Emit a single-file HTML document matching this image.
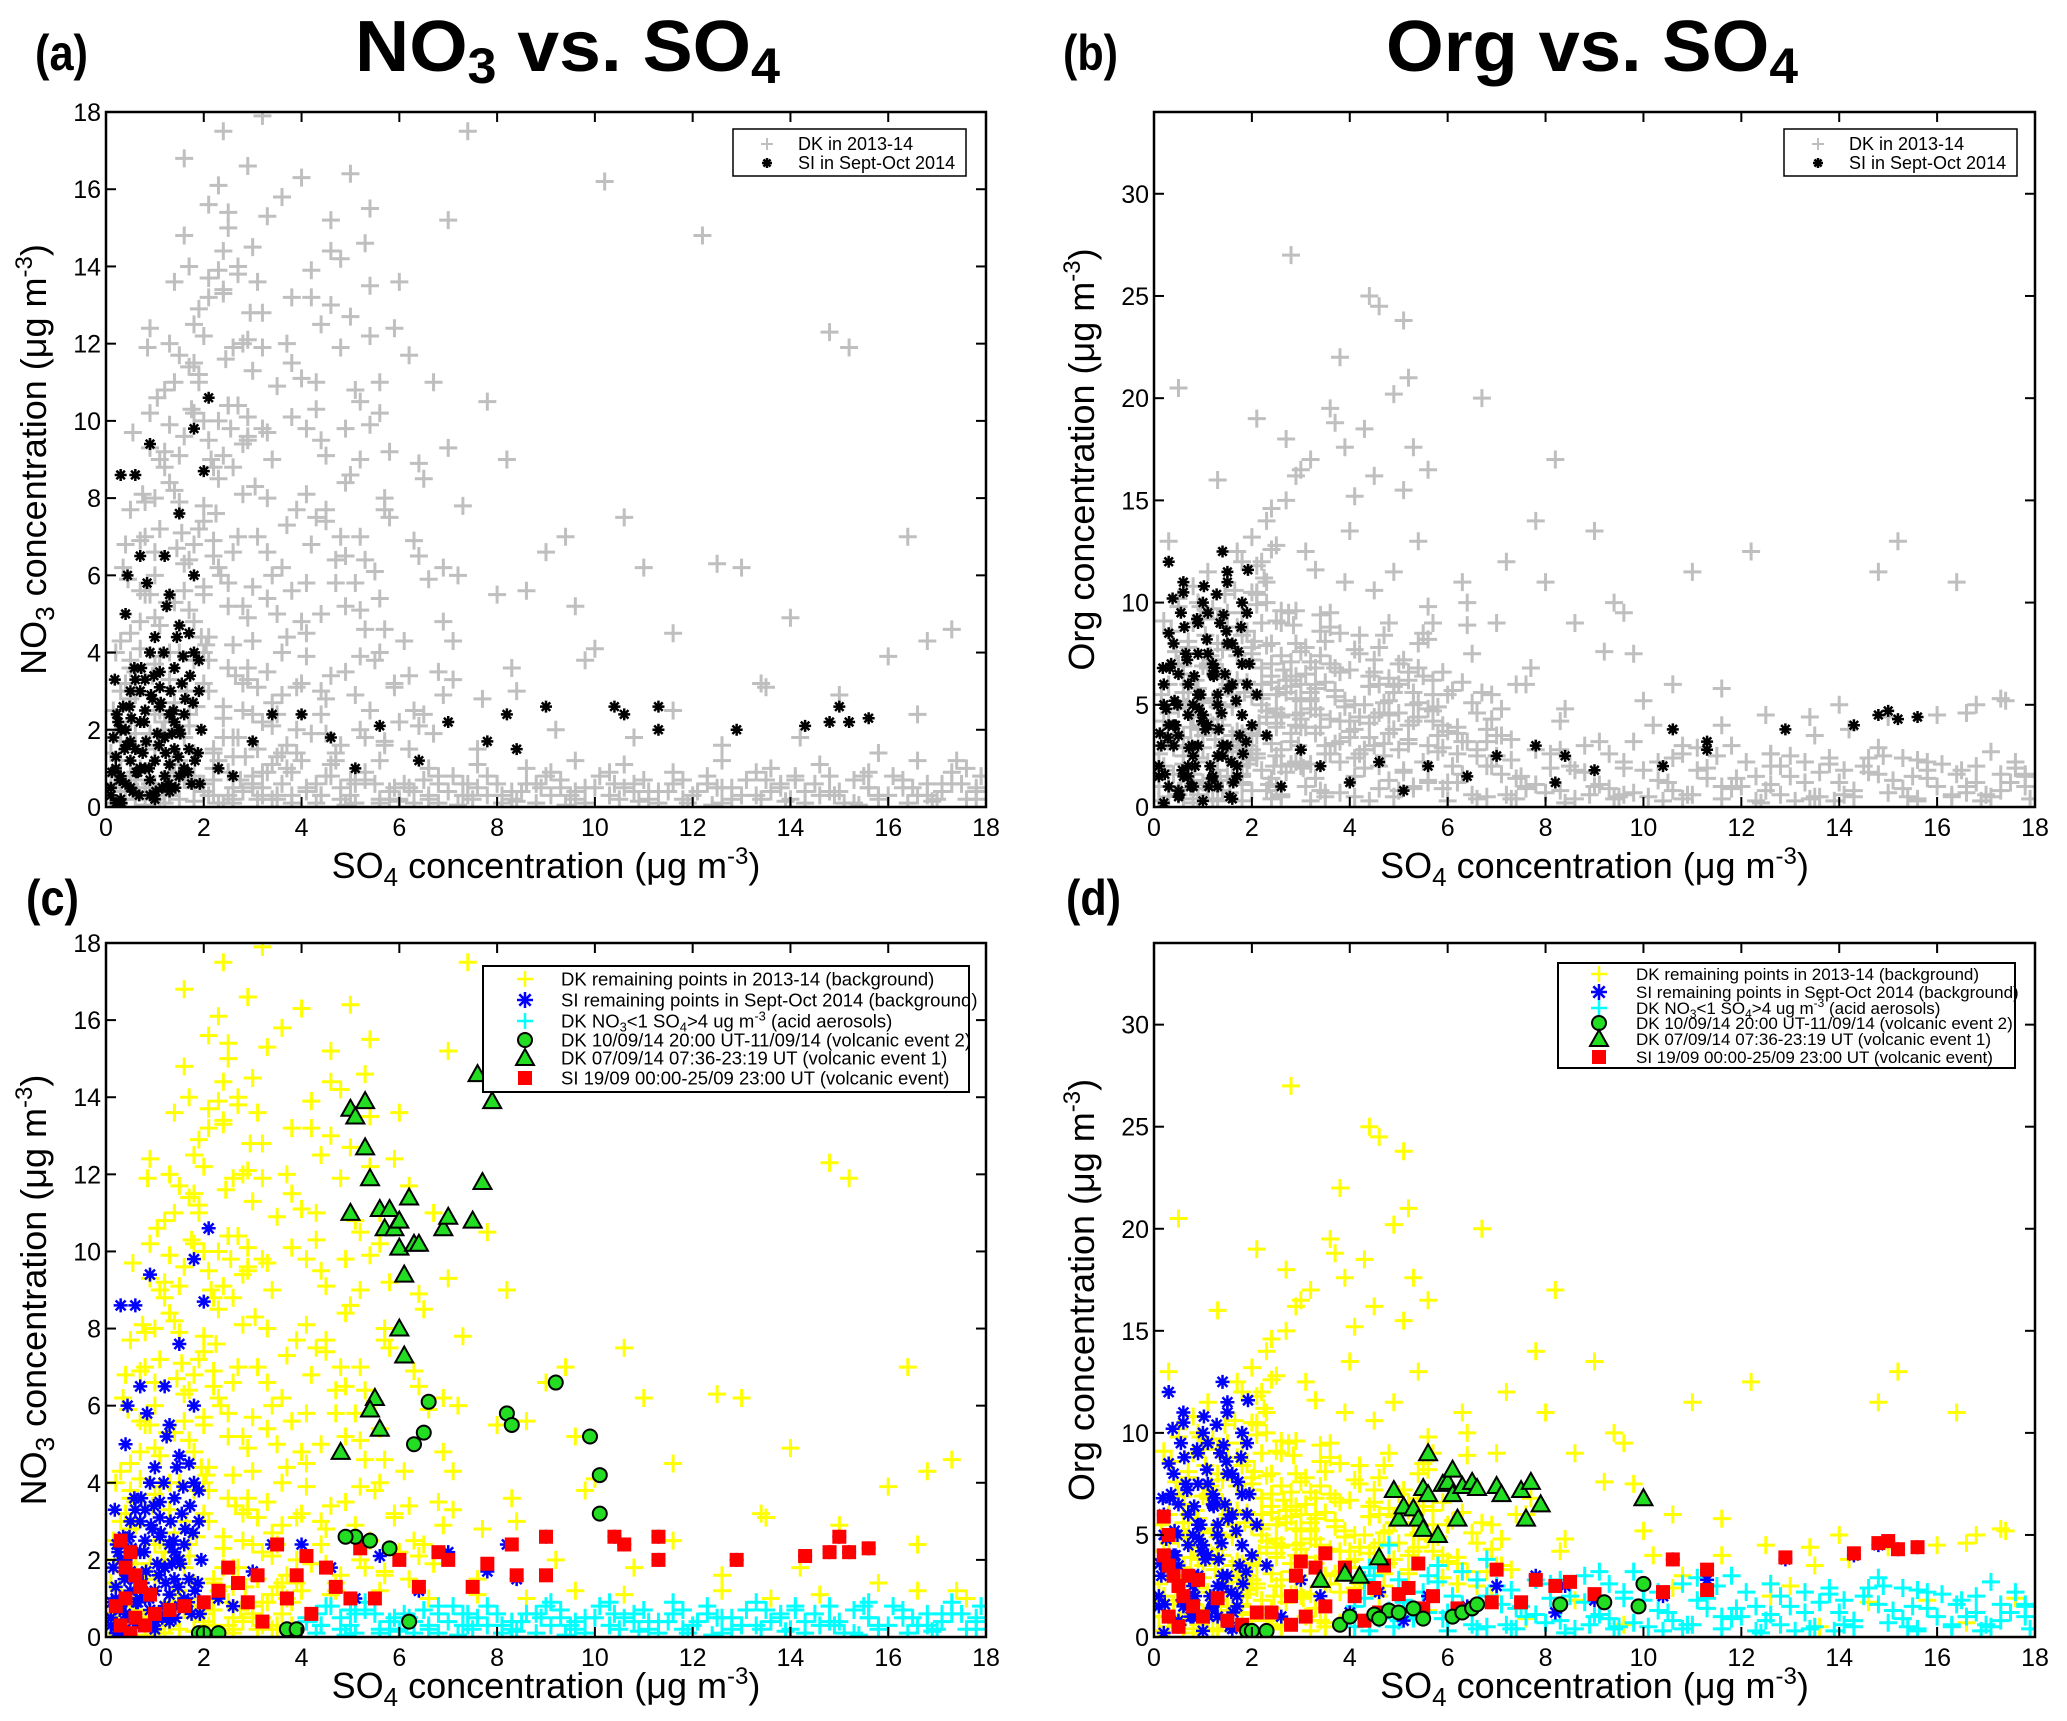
<!DOCTYPE html>
<html><head><meta charset="utf-8"><style>
html,body{margin:0;padding:0;background:#fff;}
svg{display:block;font-family:"Liberation Sans",Arial,sans-serif;}
</style></head><body>
<svg id="fig" width="2067" height="1721" viewBox="0 0 2067 1721" xmlns="http://www.w3.org/2000/svg">
<defs>
<clipPath id="clipA"><rect x="106" y="112" width="880" height="695"/></clipPath>
<clipPath id="clipB"><rect x="1154" y="112" width="881" height="695"/></clipPath>
<clipPath id="clipC"><rect x="106" y="943" width="880" height="694"/></clipPath>
<clipPath id="clipD"><rect x="1154" y="943" width="881" height="694"/></clipPath>
</defs>
<text x="35" y="70" font-size="50" font-weight="bold" textLength="53" lengthAdjust="spacingAndGlyphs">(a)</text>
<text x="355" y="71" font-size="72" font-weight="bold" textLength="425" lengthAdjust="spacingAndGlyphs">NO<tspan font-size="50" dy="12">3</tspan><tspan dy="-12"> vs. SO</tspan><tspan font-size="50" dy="12">4</tspan></text>
<text x="1063" y="70" font-size="50" font-weight="bold" textLength="55" lengthAdjust="spacingAndGlyphs">(b)</text>
<text x="1386" y="71" font-size="72" font-weight="bold" textLength="412" lengthAdjust="spacingAndGlyphs">Org vs. SO<tspan font-size="50" dy="12">4</tspan></text>
<text x="26" y="915" font-size="50" font-weight="bold" textLength="53" lengthAdjust="spacingAndGlyphs">(c)</text>
<text x="1066" y="915" font-size="50" font-weight="bold" textLength="55" lengthAdjust="spacingAndGlyphs">(d)</text>
</svg>
<script>
// ---- DK 2013-14 data (SO4, NO3, Org) ----
const dkSO4 = [0.1,0.3,0.5,0.7,0.9,1.1,1.3,1.5,1.7,1.9, 2.1,2.3,2.5,2.7,2.9,0.2,0.6,1.0,1.4,1.8, 2.2,2.6,3.0,3.4,3.8,4.2,4.6,5.0,5.4,5.8, 1.6,2.0,2.4,2.8,3.2,3.6,4.0,4.4,4.8,5.2, 3.1,3.5,3.9,4.3,4.7,5.1,5.5,5.9,6.3,6.7, 7.0,7.4,7.8,8.2,8.6,9.0,9.4,9.8,10.2,10.6, 11.0,11.6,12.2,12.5,13.0,13.5,14.0,14.8,15.2,16.4, 16.0,16.8,17.3,17.8,0.3,0.5,0.9,1.3,1.7,2.1, 2.5,3.0,3.5,4.1,4.5,5.0,5.5,6.0,6.5,7.0, 7.5,8.0,8.5,9.0,9.5,10.0,10.5,11.0,11.5,12.0, 12.5,13.0,13.5,14.0,14.5,15.0,15.5,16.0,16.5,17.0, 17.5,4.3,5.3,6.3,7.3,8.3,9.3,10.3,11.3,12.3, 13.3,14.3,15.3,16.3,17.3,4.8,5.8,6.8,7.8,8.8, 9.8,10.8,11.8,12.8,13.8,14.8,15.8,16.8,17.8,3.2, 0.1,0.3,0.6,0.9,1.2,1.5,1.8,2.2,2.6,3.0, 3.3,3.7,4.1,4.5,4.9,5.3,5.7,2.4,2.8,3.6, 1.2,1.8,2.3,2.7,3.3,3.8,4.3,4.9,5.6,6.5, 0.8,1.1,1.5,2.0,2.5,3.1,0.5,1.0,2.1,2.9, 6.0,6.8,7.6,8.4,9.2,10.0,10.8,11.6,12.6,13.4, 14.2,15.0,15.8,16.6,17.4,9.6,8.0,7.2,6.4,5.6,
 0.2,0.5,0.8,1.1,1.4,1.7,2.0,2.3,2.6,2.9, 0.4,0.7,1.0,1.3,1.6,1.9,2.2,2.5,2.8,0.9, 1.2,1.5,1.8,2.1,2.4,2.7,3.0,0.6,1.1,1.6, 2.0,2.4,2.8,0.3,0.7,1.3,1.9,2.5,3.1,2.2, 1.4,1.8,2.6,3.2,0.5,1.0,2.3,2.9,1.7,2.1, 3.4,3.7,4.0,4.3,4.6,4.9,5.2,5.5,5.8,6.1, 3.2,3.6,4.2,4.8,5.4,6.0,3.9,4.5,5.1,5.7, 2.3,2.7,3.3,3.5,4.4,5.0,5.3,6.4,6.9,7.3, 0.1,0.3,0.5,0.7,0.9,1.2,1.5,1.8,2.4,3.0, 3.8,4.1,4.7,5.2,5.6,6.2,6.6,7.1,7.7,8.3,
 0.3,0.8,1.3,1.8,2.3,2.8,3.3,3.8,4.3,4.8, 5.3,5.8,6.3,6.8,7.3,7.8,8.3,8.8,9.3,9.8, 10.3,10.8,11.3,11.8,12.3,12.8,13.3,13.8,14.3,14.8, 15.3,15.8,16.3,16.8,17.3,17.8,4.6,5.6,6.6,7.6, 8.6,9.6,10.6,11.6,12.6,13.6,14.6,15.6,16.6,17.6, 4.4,5.1,5.9,6.6,7.4,8.1,8.9,9.6,10.4,11.1, 11.9,12.6,13.4,14.1,14.9,15.6,16.4,17.1,17.9,9.1, 0.2,0.6,1.0,1.5,2.0,2.5,3.0,3.5,4.0,1.2, 2.2,2.7,3.2,3.7,4.2,4.7,5.2,5.7,6.2,6.7, 2.4,2.9,3.4,3.9,4.4,4.9,5.4,5.9,6.4,6.9,
 0.15,0.45,0.75,1.05,1.35,1.65,1.95,2.25,2.55,2.85, 0.35,0.65,0.95,1.25,1.55,1.85,2.15,2.45,2.75,3.05, 0.55,0.85,1.15,1.45,1.75,2.05,2.35,2.65,2.95,1.0, 1.6,2.0,2.4,2.8,3.2,3.6,4.0,4.4,4.8,5.2, 3.3,3.9,4.5,5.1,5.7,6.3,6.9,3.5,4.1,4.7, 5.3,5.9,6.5,7.1,3.0,3.8,4.6,5.4,6.2,7.0, 0.6,1.1,1.6,2.1,2.6,3.1,3.6,4.1,4.6,5.1, 5.6,6.1,6.6,7.1,7.6,8.1,8.6,9.1,9.6,10.1, 10.6,11.1,11.6,12.1,12.6,13.1,13.6,14.1,14.6,15.1, 15.6,16.1,16.6,17.1,17.6,4.9,6.0,7.2,8.4,9.4, 10.9,12.4,13.9,15.4,16.9,1.3,2.4,3.4,0.8,1.8, 0.2,0.4,0.6,0.8,1.0,1.2,1.4,1.6,1.8,2.0,
 0.7,1.0,1.3,1.6,1.9,2.2,2.5,2.8,3.1,3.4, 0.5,0.8,1.1,1.4,1.7,2.0,2.3,2.6,2.9,3.2, 3.6,4.0,4.4,4.8,5.2,5.6,4.2,4.6,5.0,5.4, 1.0,1.4,1.8,2.2,2.6,3.0,3.4,3.8,2.0,2.4, 2.1,2.5,2.9,3.3,3.7,4.1,4.5,4.9,5.3,5.7, 2.0,2.6,3.2,3.8,4.4,5.0,5.6,6.2,6.8,7.4, 0.9,1.3,1.7,2.1,2.5,2.9,3.3,3.7,4.1,4.5, 0.4,0.6,0.8,1.2,1.5,1.8,2.2,2.6,3.0,3.5];
const dkNO3 = [0.5,1.2,2.8,4.1,5.5,7.2,3.3,9.1,6.4,11.0, 13.2,8.5,15.0,10.4,12.1,2.0,3.5,6.0,8.2,4.8, 6.5,4.2,14.5,9.0,11.5,6.8,13.0,8.6,15.5,7.5, 16.8,5.5,17.5,2.5,17.9,4.0,16.3,3.0,14.2,10.5, 1.5,5.0,2.0,7.5,1.2,5.8,3.8,12.4,2.5,11.0, 15.2,17.5,10.5,9.0,5.6,6.6,7.0,3.8,16.2,7.5, 6.2,4.5,14.8,6.3,6.2,3.1,4.9,12.3,11.9,7.0, 3.9,4.3,4.6,0.5,4.3,7.7,10.2,12.0,14.0,9.5, 0.3,0.6,0.2,0.5,0.8,0.3,0.6,0.2,0.7,0.4, 0.2,0.6,0.4,0.8,0.3,0.5,0.2,0.7,0.4,0.3, 0.5,0.3,0.7,0.2,0.6,0.4,0.8,0.3,0.5,0.2, 0.6,0.1,0.9,0.4,0.6,0.2,0.5,0.9,0.1,0.6, 0.9,0.4,0.1,0.7,0.9,0.5,0.2,0.8,0.3,0.6, 0.1,0.4,0.7,0.2,0.5,0.8,0.3,0.6,0.2,0.9, 0.1,0.4,0.2,0.6,0.3,0.8,0.5,1.0,1.8,2.4, 3.5,1.0,4.5,2.8,6.5,1.8,4.6,1.8,3.2,6.2, 8.8,11.5,10.0,13.8,8.0,13.2,11.0,9.8,10.2,8.5, 5.5,2.5,4.0,7.8,5.8,7.0,0.8,1.5,3.0,9.5, 2.2,3.5,1.5,3.0,2.0,4.1,1.8,2.5,1.6,3.2, 1.8,2.9,1.4,2.4,1.2,5.2,5.5,6.0,6.5,5.4,
 0.8,2.2,1.6,3.9,2.7,5.1,7.4,6.2,8.8,10.1, 3.2,4.8,6.6,8.4,9.6,11.2,1.4,3.6,5.2,1.9, 10.8,7.9,12.5,4.4,9.1,7.0,11.3,2.9,4.7,6.3, 5.7,2.3,8.1,1.7,5.6,0.9,12.9,10.4,3.1,6.9, 13.6,10.2,11.9,9.8,3.8,8.0,13.9,4.9,2.1,15.6, 2.1,7.3,4.8,10.3,3.4,8.4,5.1,6.1,9.2,4.3, 12.8,15.8,13.9,11.9,9.9,13.6,1.4,1.9,2.9,1.6, 16.1,14.0,15.3,10.9,9.5,12.7,14.6,8.9,6.2,7.8, 1.4,3.0,4.5,6.9,9.3,2.2,11.7,3.8,13.3,5.7, 5.6,8.1,6.4,7.0,4.0,3.4,5.9,4.3,2.8,3.6,
 0.2,0.5,0.3,0.7,0.1,0.4,0.9,0.3,0.6,0.2, 0.7,0.4,0.1,0.6,0.3,0.8,0.4,0.1,0.7,0.5, 0.3,0.6,0.4,0.2,0.8,0.5,0.3,0.6,0.1,0.4, 0.7,0.2,0.5,0.3,0.6,0.4,1.1,1.2,1.0,1.1, 1.0,1.2,1.1,0.9,1.2,1.0,1.1,0.9,1.2,1.0, 0.3,0.1,0.5,0.2,0.6,0.3,0.5,0.2,0.6,0.4, 0.1,0.5,0.2,0.7,0.3,0.5,0.1,0.4,0.8,0.9, 0.6,0.9,0.2,1.2,0.6,0.9,0.5,1.3,1.2,0.1, 1.5,1.8,2.2,1.6,1.9,1.4,2.0,1.7,1.5,1.9, 2.6,3.3,2.7,3.1,2.4,3.5,2.5,3.2,2.1,2.9,
 2.5,5.9,8.1,10.6,1.1,3.0,4.4,7.6,9.8,1.3, 6.2,0.4,3.4,5.3,7.1,2.6,9.0,11.6,0.7,8.3, 9.7,11.9,2.0,6.7,10.3,4.2,6.0,3.4,12.8,4.9, 14.8,12.2,13.4,9.4,0.3,2.9,11.1,12.5,1.6,3.9, 5.4,7.7,9.1,10.8,7.7,6.9,4.8,2.4,3.9,5.8, 4.6,3.1,2.4,3.3,4.3,10.1,14.4,13.5,11.7,9.3, 0.4,0.1,0.7,0.3,0.5,0.2,0.6,0.4,0.8,0.6, 0.1,0.6,0.3,0.8,0.5,0.1,0.6,0.3,0.4,0.8, 0.5,0.2,0.6,0.4,0.1,0.7,0.4,0.8,0.3,0.1, 0.5,0.8,0.3,0.6,0.2,0.05,0.15,0.05,0.15,0.05, 0.15,0.05,0.15,0.05,0.15,0.3,0.1,0.2,0.05,0.15, 4.0,6.8,1.9,7.9,3.7,9.2,5.3,1.8,6.8,3.2,
 1.0,2.4,4.0,5.6,7.2,8.8,10.4,12.0,13.6,6.0, 3.6,7.0,9.0,11.0,2.4,4.0,1.2,6.6,9.6,11.9, 1.4,3.2,5.0,7.0,9.0,11.0,13.2,15.2,16.4,12.2, 0.6,0.9,1.4,0.7,1.3,0.8,1.1,0.9,10.0,14.4, 3.8,5.2,3.6,6.6,4.4,5.8,7.7,5.2,6.4,8.0, 0.4,0.2,0.5,0.1,0.3,0.7,0.2,0.5,0.1,0.3, 12.4,9.9,11.4,13.7,15.4,16.6,9.7,12.0,9.8,7.4, 0.2,0.7,0.4,0.5,0.2,0.8,0.3,0.1,0.6,0.3];
const dkOrg = [1.0,3.2,0.8,5.1,2.4,7.0,4.3,9.5,2.9,6.1, 3.5,14.0,5.5,18.0,8.0,2.0,6.5,4.0,3.0,1.5, 12.0,9.0,16.5,4.5,22.0,7.5,24.5,6.0,13.0,3.5, 5.0,10.5,7.0,27.0,17.0,19.5,13.5,25.0,9.0,21.0, 6.5,3.0,11.0,5.0,2.5,15.5,8.5,4.0,11.0,20.0, 9.0,6.0,14.0,17.0,9.0,13.5,10.0,7.5,4.0,6.0, 11.5,4.0,12.5,4.5,2.5,3.5,5.0,11.5,13.0,11.0, 4.5,5.0,5.3,1.0,13.0,20.5,10.0,16.0,12.5,19.0, 1.0,2.0,0.5,1.5,3.0,0.8,2.2,1.2,0.6,2.5, 1.5,0.7,2.0,1.0,0.5,1.8,1.2,0.6,2.5,1.0, 0.8,1.5,0.5,1.2,2.0,0.7,1.5,1.0,1.8,0.6, 1.2,2.8,1.0,3.2,0.4,2.8,0.9,2.2,1.4,0.3, 2.2,0.5,2.4,0.6,1.6,4.5,3.5,3.8,2.8,3.0, 3.2,2.6,3.0,2.0,2.4,2.9,2.2,2.0,1.6,0.3, 0.3,1.0,2.5,0.6,4.0,1.5,3.0,5.5,4.5,6.0, 4.8,6.8,3.8,7.2,5.6,4.2,6.2,8.0,3.2,9.5, 7.0,9.5,11.0,15.0,6.0,8.5,18.5,11.5,16.5,7.5, 9.0,11.5,6.0,7.5,2.5,12.5,7.0,3.5,10.5,4.0, 5.5,3.2,6.0,4.8,7.6,5.2,3.0,5.8,2.6,4.4, 3.8,4.4,1.8,4.6,5.2,9.5,11.0,12.0,10.0,8.2,
 1.8,0.6,4.4,2.2,6.3,3.7,5.4,7.9,2.8,9.6, 3.4,8.1,1.2,9.2,4.9,2.1,6.8,4.1,7.1,5.8, 5.2,8.8,3.6,9.9,6.1,1.7,7.6,5.6,0.9,2.4, 0.8,3.1,5.9,4.6,7.8,4.9,8.6,9.1,3.9,5.0, 6.6,1.1,2.0,5.3,10.2,6.9,4.4,6.4,7.4,11.8, 3.9,5.4,6.7,2.8,4.6,5.9,3.3,6.4,4.9,5.7, 7.1,4.3,8.4,5.2,6.8,3.7,17.6,16.2,23.8,4.2, 4.7,5.6,3.6,6.1,4.1,7.0,5.0,8.9,5.5,3.3, 2.6,6.0,9.8,3.0,0.4,7.2,2.7,12.0,1.4,4.3, 2.2,5.0,3.1,6.6,9.8,2.6,4.6,3.5,6.8,4.2,
 0.5,1.1,0.3,1.6,0.8,2.1,1.4,0.7,1.9,1.3, 0.9,2.7,1.6,0.5,2.3,1.1,0.8,1.7,2.6,0.7, 1.3,0.4,1.9,0.9,1.5,0.6,1.2,2.1,0.8,1.6, 0.9,1.4,0.5,1.2,0.8,1.5,2.0,1.3,2.5,0.9, 1.8,0.6,2.4,1.0,2.0,0.5,1.7,2.3,0.7,1.9, 0.3,1.7,0.9,2.8,0.4,1.9,0.6,2.2,0.3,2.9, 1.4,2.6,0.4,1.8,2.5,0.3,1.6,2.7,0.4,3.2, 4.2,3.4,2.9,5.8,3.8,4.6,3.9,2.6,3.4,0.4, 5.3,6.2,4.8,5.7,4.4,5.1,4.0,4.7,3.6,5.6, 6.4,5.3,7.4,4.9,5.9,3.8,5.1,2.9,3.2,2.0,
 5.5,7.6,3.9,8.4,1.3,10.6,2.3,11.2,5.8,8.9, 8.6,4.9,9.8,3.3,0.7,5.6,4.1,2.0,9.5,1.9, 0.9,6.2,7.4,10.4,3.2,8.1,1.1,6.7,3.0,5.1, 2.7,7.2,12.6,3.6,2.1,8.8,3.7,5.9,6.3,3.1, 6.8,5.2,4.4,7.2,5.5,6.1,4.3,8.1,7.7,8.4, 5.6,6.6,5.1,4.8,4.6,3.2,6.0,4.4,3.9,3.5, 0.4,0.9,1.5,2.4,0.6,1.0,2.6,0.5,0.9,1.8, 1.2,2.0,0.4,1.6,1.0,2.6,0.4,1.1,1.9,0.5, 0.8,1.8,0.4,2.2,1.1,0.3,1.7,0.6,2.4,1.3, 0.4,2.1,1.0,0.5,2.2,0.5,0.3,0.6,0.2,0.4, 0.6,0.2,0.3,0.5,0.3,1.8,0.4,0.8,1.3,2.0, 9.1,2.9,6.9,1.6,5.3,9.7,0.8,3.5,1.2,7.8,
 6.0,4.5,8.0,5.5,3.0,9.0,4.8,6.2,7.8,9.4, 4.8,10.8,6.8,4.0,8.8,2.8,10.0,7.4,2.2,5.6, 7.0,4.2,6.4,3.6,6.2,4.8,2.6,7.8,4.6,8.0, 9.2,7.7,8.4,6.0,9.6,5.2,8.6,6.6,13.2,14.6, 10.4,12.8,16.2,11.6,18.8,15.2,10.6,20.2,17.6,9.0, 3.6,4.4,5.2,4.2,3.4,2.8,3.0,1.2,2.0,1.4, 3.8,5.1,6.2,2.6,3.9,4.5,5.8,3.1,2.4,6.6, 1.6,2.1,0.2,1.4,2.4,0.3,1.8,0.5,2.2,0.7];
// ---- SI Sept-Oct 2014 data ----
const siSO4 = [0.1,0.2,0.3,0.4,0.5,0.6,0.7,0.8,0.9,1.0, 1.1,1.2,1.3,1.4,1.5,1.6,1.7,1.8,1.9,2.0, 0.3,0.6,0.9,1.2,1.5,1.8,0.4,0.8,1.4,2.1, 2.3,2.6,3.0,3.4,4.0,4.6,5.1,5.6,6.4,7.0, 7.8,8.2,8.4,9.0,10.4,10.6,11.3,11.3,12.9,14.3, 14.8,15.0,15.2,15.6,0.2,0.5,0.7,1.0,1.3,1.6, 0.15,0.35,0.55,0.75,0.95,1.15,1.35,1.55,1.75,1.95, 0.1,0.3,0.5,0.7,0.9,1.1,1.3,1.5,1.7,1.9, 0.2,0.4,0.6,0.8,1.0,1.2,1.4,1.6,1.8,0.3, 0.5,0.7,0.9,1.1,1.3,1.5,0.25,0.65,1.05,1.45,
 0.12,0.22,0.32,0.42,0.52,0.62,0.72,0.82,0.92,1.02, 1.12,1.22,1.32,1.42,1.52,1.62,1.72,1.82,1.92,0.18, 0.28,0.38,0.48,0.58,0.68,0.78,0.88,0.98,1.08,1.18, 1.28,1.38,1.48,1.58,1.68,1.78,1.88,0.44,0.84,1.24];
const siNO3 = [0.3,1.0,2.0,0.6,3.0,1.5,6.5,2.5,4.0,1.2, 3.5,0.8,5.5,2.2,7.6,1.0,4.5,9.8,3.0,8.7, 8.6,8.6,9.4,6.5,4.7,6.0,5.0,3.3,1.5,10.6, 1.0,0.8,1.7,2.4,2.4,1.8,1.0,2.1,1.2,2.2, 1.7,2.4,1.5,2.6,2.6,2.4,2.6,2.0,2.0,2.1, 2.2,2.6,2.2,2.3,0.1,0.5,1.0,0.2,0.4,0.9, 1.8,2.6,0.4,1.4,2.8,0.5,1.9,3.2,0.6,2.0, 0.5,0.8,1.2,2.2,0.3,2.6,1.1,2.0,1.5,3.8, 1.3,2.0,3.3,1.0,4.4,1.8,3.6,2.4,4.0,0.2, 1.7,3.0,0.7,3.1,2.4,0.8,2.2,0.9,1.9,4.4,
 0.9,2.4,0.1,1.6,2.3,0.9,3.6,1.7,2.9,0.4, 2.7,1.4,3.0,0.5,1.9,2.8,3.4,1.2,0.6,3.3, 0.7,1.5,2.6,3.6,0.3,2.2,1.0,3.4,1.6,4.0, 0.6,2.5,1.3,3.9,0.9,2.7,1.4,6.0,5.8,5.2];
const siOrg = [2.0,5.0,1.0,8.0,3.5,11.0,6.0,2.5,9.0,4.5, 7.5,1.5,5.0,12.5,3.0,8.0,2.0,10.0,6.0,4.0, 12.0,10.5,3.0,6.5,11.0,7.0,4.0,1.0,2.5,5.5, 3.5,1.0,2.8,2.0,1.2,2.2,0.8,2.0,1.5,2.5, 3.0,1.2,2.5,1.8,2.0,3.8,2.8,3.2,3.8,4.0, 4.5,4.7,4.3,4.4,0.2,0.5,1.5,0.3,1.0,0.4, 3.0,7.0,9.5,1.0,5.5,2.0,9.0,0.5,3.5,7.0, 1.5,4.0,6.5,2.0,7.5,4.0,5.5,8.0,1.5,9.5, 6.0,3.0,1.5,5.0,10.0,7.0,3.0,6.0,4.5,8.5, 0.8,4.5,5.5,9.5,2.5,11.5,4.8,7.5,3.8,6.5,
 3.6,1.6,6.8,5.2,0.6,8.8,2.9,6.4,4.8,10.8, 1.0,6.4,3.8,9.4,5.8,1.2,7.6,2.6,11.6,6.8, 3.4,10.2,5.0,1.8,7.2,3.0,9.2,4.2,8.2,1.4, 10.4,4.6,8.6,2.2,5.2,8.8,3.2,4.0,2.0,6.8];
// ---- Volcanic event 1 (triangles) ----
const ev1SO4c = [4.8,5.0,5.0,5.1,5.3,5.3,5.4,5.6,5.7,5.8,5.9,6.0,6.0,6.1,6.2,6.0,6.3,6.4,6.9,7.0,7.5,7.6,7.7,7.9,5.5,5.6,5.4,6.1];
const ev1NO3 = [4.8,11.0,13.7,13.5,13.9,12.7,11.9,11.1,10.6,11.1,10.6,10.8,10.1,9.4,11.4,8.0,10.2,10.2,10.6,10.9,10.8,14.6,11.8,13.9,6.2,5.4,5.9,7.3];
const ev1SO4d = [4.9,5.0,5.1,5.3,5.4,5.5,5.5,5.6,5.6,5.8,5.9,6.0,6.1,6.1,6.2,6.3,6.5,6.6,7.0,7.1,7.5,7.6,7.7,7.9,3.4,3.9,4.2,10.0,4.6];
const ev1Org = [7.2,5.8,6.4,6.3,5.8,5.3,7.3,7.0,9.0,5.0,7.5,7.6,8.2,7.0,5.8,7.4,7.6,7.3,7.4,7.0,7.2,5.8,7.6,6.5,2.8,3.1,3.0,6.8,3.9];
// ---- Volcanic event 2 (circles) ----
const ev2SO4c = [1.9,2.0,2.3,3.7,3.9,5.4,5.8,6.2,6.3,6.5,6.6,8.2,8.3,9.2,9.9,10.1,10.1,5.1,4.9];
const ev2NO3 = [0.1,0.1,0.1,0.2,0.2,2.5,2.3,0.4,5.0,5.3,6.1,5.8,5.5,6.6,5.2,4.2,3.2,2.6,2.6];
const ev2SO4d = [1.9,2.0,2.3,3.8,4.0,4.5,4.8,5.0,5.3,5.5,6.1,6.3,6.5,6.6,8.3,9.2,9.9,10.0,4.6];
const ev2Org = [0.3,0.3,0.3,0.6,1.0,1.1,1.3,1.2,1.4,0.9,1.0,1.2,1.4,1.6,1.6,1.7,1.5,2.6,0.9];
// ---- SI volcanic event (red squares) ----
const evSiSO4c = [0.2,0.3,0.4,0.5,0.4,0.6,0.7,0.8,0.5,1.0,1.3,1.6,2.0,2.3,2.5,2.7,2.9,3.1,3.2,3.5,3.7,3.9,4.1,4.2,4.5,4.7,5.0,5.2,5.5,6.0,6.4,6.8,7.0,7.5,7.8,8.3,8.4,9.0,9.0,10.4,10.6,11.3,11.3,12.9,14.3,14.8,15.0,15.2,15.6,0.3,0.6,0.9];
const evSiNO3 = [0.8,2.5,1.8,2.2,1.0,0.5,1.3,0.3,0.1,0.6,0.7,0.8,0.9,1.2,1.8,1.4,0.9,1.6,0.4,2.4,1.0,1.6,2.1,0.6,1.8,1.3,1.0,2.3,1.0,2.0,1.3,2.2,2.0,1.3,1.9,2.4,1.6,1.6,2.6,2.6,2.4,2.0,2.6,2.0,2.1,2.2,2.6,2.2,2.3,0.3,1.6,1.1];
const evSiSO4d = [0.2,0.3,0.2,0.3,0.4,0.5,0.6,0.7,0.8,0.3,0.5,0.9,1.0,1.3,1.5,1.8,2.1,2.4,2.8,2.8,2.9,3.0,3.1,3.3,3.5,3.5,3.9,4.1,4.3,4.5,4.6,4.7,5.0,5.2,5.4,5.5,5.7,6.2,6.9,7.0,7.5,7.8,8.2,8.5,9.0,10.4,10.6,11.3,11.3,12.9,14.3,14.8,15.0,15.2,15.6];
const evSiOrg = [5.9,5.0,4.0,3.5,3.0,2.5,2.0,3.0,1.5,1.0,0.5,2.8,1.0,1.9,0.8,0.6,1.2,1.2,0.6,2.0,3.0,3.7,1.0,3.4,1.5,4.1,3.4,2.0,0.8,2.4,1.2,3.5,2.1,2.4,3.6,1.4,2.0,1.4,1.7,3.3,1.7,2.8,2.5,2.7,2.1,2.2,3.8,3.3,2.3,3.9,4.1,4.6,4.7,4.3,4.4];
// ---- Axes ticks ----
const xTicks = [0,2,4,6,8,10,12,14,16,18];
const yTicksNO3 = [0,2,4,6,8,10,12,14,16,18];
const yTicksOrg = [0,5,10,15,20,25,30];

const NS = "http://www.w3.org/2000/svg";
const svg = document.getElementById('fig');
function mk(tag, attrs, parent){
  const e = document.createElementNS(NS, tag);
  for (const k in attrs) e.setAttribute(k, attrs[k]);
  (parent||svg).appendChild(e);
  return e;
}
function makeScale(d0,d1,r0,r1){ return v => r0 + (v-d0)/(d1-d0)*(r1-r0); }
function plusPath(x,y,s){ return `M${x-s},${y}H${x+s}M${x},${y-s}V${y+s}`; }
function starPath(x,y,s){ const d=s*0.71; return `M${x-s},${y}H${x+s}M${x},${y-s}V${y+s}M${x-d},${y-d}L${x+d},${y+d}M${x-d},${y+d}L${x+d},${y-d}`; }

function drawPlus(g, xs, ys, sx, sy, color, size, sw, filter, name){
  for (let i=0;i<xs.length;i++){
    if (filter && !filter(i)) continue;
    const p = mk('path',{d:plusPath(sx(xs[i]),sy(ys[i]),size),stroke:color,'stroke-width':sw,fill:'none'},g);
    
    
  }
}
function drawStar(g, xs, ys, sx, sy, color, size, sw, name){
  for (let i=0;i<xs.length;i++){
    const p = mk('path',{d:starPath(sx(xs[i]),sy(ys[i]),size),stroke:color,'stroke-width':sw,fill:'none'},g);
    
    
  }
}
function drawCircles(g, xs, ys, sx, sy){
  for (let i=0;i<xs.length;i++){
    const c = mk('circle',{cx:sx(xs[i]),cy:sy(ys[i]),r:7,fill:'#22dd22',stroke:'#000','stroke-width':2},g);
    
    
  }
}
function drawTris(g, xs, ys, sx, sy){
  for (let i=0;i<xs.length;i++){
    const x=sx(xs[i]), y=sy(ys[i]);
    const t = mk('path',{d:`M${x},${y-9}L${x+9},${y+7}L${x-9},${y+7}Z`,fill:'#22dd22',stroke:'#000','stroke-width':2},g);
    
    
  }
}
function drawSquares(g, xs, ys, sx, sy){
  for (let i=0;i<xs.length;i++){
    const r = mk('rect',{x:sx(xs[i])-7,y:sy(ys[i])-7,width:14,height:14,fill:'#ff0000'},g);
    
    
  }
}

function axesFrame(x0,x1,y0,y1,yMax,yTicks,yLabelMain,xLabY,yLabX){
  const sx = makeScale(0,18,x0,x1), sy = makeScale(0,yMax,y1,y0);
  const g = mk('g',{});
  
  
  mk('rect',{x:x0,y:y0,width:x1-x0,height:y1-y0,fill:'none',stroke:'#000','stroke-width':2.5},g);
  xTicks.forEach(v=>{
    const x=sx(v);
    mk('line',{x1:x,y1:y1,x2:x,y2:y1-10,stroke:'#000','stroke-width':2},g);
    mk('line',{x1:x,y1:y0,x2:x,y2:y0+10,stroke:'#000','stroke-width':2},g);
    const t = mk('text',{x:x,y:y1+29,'font-size':25,'text-anchor':'middle'},g);
    t.textContent = v;
    
    
  });
  yTicks.forEach(v=>{
    const y=sy(v);
    mk('line',{x1:x0,y1:y,x2:x0+10,y2:y,stroke:'#000','stroke-width':2},g);
    mk('line',{x1:x1,y1:y,x2:x1-10,y2:y,stroke:'#000','stroke-width':2},g);
    const t = mk('text',{x:x0-5,y:y+9,'font-size':25,'text-anchor':'end'},g);
    t.textContent = v;
    
    
  });
  const xl = mk('text',{x:(x0+x1)/2,y:xLabY,'font-size':36,'text-anchor':'middle'});
  xl.innerHTML = 'SO<tspan font-size="26" dy="8">4</tspan><tspan dy="-8"> concentration (μg m</tspan><tspan font-size="24" dy="-14">-3</tspan><tspan dy="14">)</tspan>';
  
  
  const cy=(y0+y1)/2;
  const yl = mk('text',{x:yLabX,y:cy,'font-size':36,'text-anchor':'middle',transform:`rotate(-90 ${yLabX} ${cy})`});
  yl.innerHTML = yLabelMain;
  
  
  return {sx,sy};
}

const no3Label = 'NO<tspan font-size="26" dy="8">3</tspan><tspan dy="-8"> concentration (μg m</tspan><tspan font-size="24" dy="-14">-3</tspan><tspan dy="14">)</tspan>';
const orgLabel = 'Org concentration (μg m<tspan font-size="24" dy="-14">-3</tspan><tspan dy="14">)</tspan>';
const acid = i => dkNO3[i] < 1 && dkSO4[i] > 4;

function plotGroup(clip,name){
  const g = mk('g',{'clip-path':`url(#${clip})`});
  
  
  return g;
}
const GRAY = '#bfbfbf';
const PS = 9, PW = 3;
// Panel A
(function(){
  const gp = plotGroup('clipA','plot-area-a');
  const sx=makeScale(0,18,106,986), sy=makeScale(0,18,807,112);
  drawPlus(gp, dkSO4, dkNO3, sx, sy, GRAY, PS, PW, null, 'dk-point');
  drawStar(gp, siSO4, siNO3, sx, sy, '#000', 6, 2.5, 'si-point');
  axesFrame(106,986,112,807,18,yTicksNO3,no3Label,878,46);
})();
// Panel B
(function(){
  const gp = plotGroup('clipB','plot-area-b');
  const sx=makeScale(0,18,1154,2035), sy=makeScale(0,34,807,112);
  drawPlus(gp, dkSO4, dkOrg, sx, sy, GRAY, PS, PW, null, 'dk-point');
  drawStar(gp, siSO4, siOrg, sx, sy, '#000', 6, 2.5, 'si-point');
  axesFrame(1154,2035,112,807,34,yTicksOrg,orgLabel,878,1094);
})();
// Panel C
(function(){
  const gp = plotGroup('clipC','plot-area-c');
  const sx=makeScale(0,18,106,986), sy=makeScale(0,18,1637,943);
  drawPlus(gp, dkSO4, dkNO3, sx, sy, '#ffff00', PS, PW, i=>!acid(i), 'dk-background-point');
  drawPlus(gp, dkSO4, dkNO3, sx, sy, '#00ffff', PS, PW, acid, 'dk-acid-aerosol-point');
  drawStar(gp, siSO4, siNO3, sx, sy, '#0000ff', 7, 2.5, 'si-background-point');
  drawSquares(gp, evSiSO4c, evSiNO3, sx, sy);
  drawCircles(gp, ev2SO4c, ev2NO3, sx, sy);
  drawTris(gp, ev1SO4c, ev1NO3, sx, sy);
  axesFrame(106,986,943,1637,18,yTicksNO3,no3Label,1698,46);
})();
// Panel D
(function(){
  const gp = plotGroup('clipD','plot-area-d');
  const sx=makeScale(0,18,1154,2035), sy=makeScale(0,34,1637,943);
  drawPlus(gp, dkSO4, dkOrg, sx, sy, '#ffff00', PS, PW, i=>!acid(i), 'dk-background-point');
  drawPlus(gp, dkSO4, dkOrg, sx, sy, '#00ffff', PS, PW, acid, 'dk-acid-aerosol-point');
  drawStar(gp, siSO4, siOrg, sx, sy, '#0000ff', 7, 2.5, 'si-background-point');
  drawSquares(gp, evSiSO4d, evSiOrg, sx, sy);
  drawCircles(gp, ev2SO4d, ev2Org, sx, sy);
  drawTris(gp, ev1SO4d, ev1Org, sx, sy);
  axesFrame(1154,2035,943,1637,34,yTicksOrg,orgLabel,1698,1094);
})();

// Legends
function legendAB(x0){
  const g = mk('g',{});
  
  
  mk('rect',{x:x0,y:129,width:233,height:47,fill:'#fff',stroke:'#000','stroke-width':1.5},g);
  mk('path',{d:plusPath(x0+34,144,6),stroke:GRAY,'stroke-width':2},g);
  mk('path',{d:starPath(x0+34,163,5),stroke:'#000','stroke-width':2.5},g);
  const t1 = mk('text',{x:x0+65,y:150,'font-size':18},g); t1.textContent='DK in 2013-14';
  
  
  const t2 = mk('text',{x:x0+65,y:169,'font-size':18},g); t2.textContent='SI in Sept-Oct 2014';
  
  
}
legendAB(733); legendAB(1784);

function legendCD(x0,y0,w,h,mx,tx,ys,fs){
  const g = mk('g',{});
  
  
  mk('rect',{x:x0,y:y0,width:w,height:h,fill:'#fff',stroke:'#000','stroke-width':2},g);
  mk('path',{d:plusPath(mx,ys[0],8),stroke:'#ffff00','stroke-width':2.5},g);
  mk('path',{d:starPath(mx,ys[1],8),stroke:'#0000ff','stroke-width':2.5},g);
  mk('path',{d:plusPath(mx,ys[2],8),stroke:'#00ffff','stroke-width':2.5},g);
  mk('circle',{cx:mx,cy:ys[3],r:7,fill:'#22dd22',stroke:'#000','stroke-width':2},g);
  mk('path',{d:`M${mx},${ys[4]-9}L${mx+9},${ys[4]+7}L${mx-9},${ys[4]+7}Z`,fill:'#22dd22',stroke:'#000','stroke-width':2},g);
  mk('rect',{x:mx-7,y:ys[5]-7,width:14,height:14,fill:'#ff0000'},g);
  const labels = [
    'DK remaining points in 2013-14 (background)',
    'SI remaining points in Sept-Oct 2014 (background)',
    'DK NO<tspan font-size="'+(fs*0.7)+'" dy="4">3</tspan><tspan dy="-4">&lt;1 SO</tspan><tspan font-size="'+(fs*0.7)+'" dy="4">4</tspan><tspan dy="-4">&gt;4 ug m</tspan><tspan font-size="'+(fs*0.7)+'" dy="-7">-3</tspan><tspan dy="7"> (acid aerosols)</tspan>',
    'DK 10/09/14 20:00 UT-11/09/14 (volcanic event 2)',
    'DK 07/09/14 07:36-23:19 UT (volcanic event 1)',
    'SI 19/09 00:00-25/09 23:00 UT (volcanic event)'
  ];
  labels.forEach((l,i)=>{
    const t = mk('text',{x:tx,y:ys[i]+fs*0.36,'font-size':fs},g);
    t.innerHTML = l;
    
    
  });
}
legendCD(483,966,486,126,525,561,[979,1000,1021,1040,1058,1078],18.5);
legendCD(1558,963,457,105,1599,1636,[974,992,1008,1023,1039,1057],17);
</script>
</body></html>
